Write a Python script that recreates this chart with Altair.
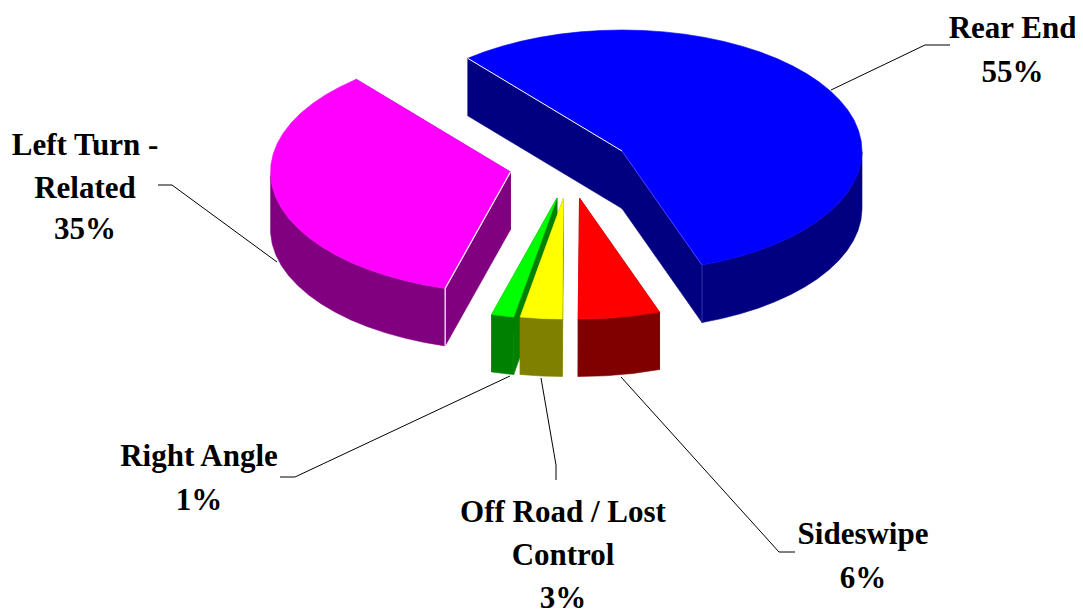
import math
import altair as alt
import pandas as pd

# ---- chart values ----
names = ["Rear End", "Sideswipe", "Off Road / Lost Control", "Right Angle", "Left Turn - Related"]
shares = [55.7, 5.5, 2.8, 1.5, 34.5]
top_colors = ["#0000ff", "#ff0000", "#ffff00", "#00ff00", "#ff00ff"]
side_colors = ["#000080", "#800000", "#808000", "#008000", "#800080"]

label_lines = [
    ["Rear End", "55%"],
    ["Sideswipe", "6%"],
    ["Off Road / Lost", "Control", "3%"],
    ["Right Angle", "1%"],
    ["Left Turn -", "Related", "35%"],
]

# ---- layout of the exploded pie (pixels on the page) ----
W, H = 1067, 601
A, B, DEPTH = 240, 121, 57.5
START = 130.0
apex = [(622, 151), (579.5, 198), (563.5, 198), (557, 198), (510.5, 172)]
draw_order = [4, 0, 3, 2, 1]
label_pos = [(1012.5, [29, 73]), (863, [535, 579]), (563, [513, 556, 598.5]),
             (199, [457, 501]), (85, [146, 189, 230])]
leaders = [
    [(831, 90), (925, 45), (950, 45)],
    [(621, 377), (779, 552), (795, 552)],
    [(541, 378), (556, 465), (556, 480)],
    [(510, 376), (295, 477), (280, 477)],
    [(277, 262), (172, 185), (158, 185)],
]

x_scale = alt.Scale(domain=[8, 8 + W], nice=False, zero=False)
y_scale = alt.Scale(domain=[8 + H, 8], nice=False, zero=False)
X = alt.X("x:Q", scale=x_scale, axis=None)
Y = alt.Y("y:Q", scale=y_scale, axis=None)


def ell(c, t, drop=0.0):
    r = math.radians(t)
    return (c[0] + A * math.cos(r), c[1] - B * math.sin(r) + drop)


def poly(points, fill, stroke=None, sw=0.6):
    df = pd.DataFrame({"x": [p[0] for p in points], "y": [p[1] for p in points], "i": range(len(points))})
    return alt.Chart(df).mark_line(fill=fill, stroke=stroke or fill, strokeWidth=sw, interpolate="linear-closed").encode(
        x=X, y=Y, order="i:Q")


def seg(points, color, sw=1.0):
    df = pd.DataFrame({"x": [p[0] for p in points], "y": [p[1] for p in points], "i": range(len(points))})
    return alt.Chart(df).mark_line(stroke=color, strokeWidth=sw).encode(x=X, y=Y, order="i:Q")


# angular span of each slice, clockwise from START
spans = []
t = START
for s in shares:
    t2 = t - s * 3.6
    spans.append((t, t2))
    t = t2

layers = []
for k in draw_order:
    c, (t0, t1) = apex[k], spans[k]
    n = max(2, int(abs(t1 - t0) / 5))
    arc_t = [t0 + (t1 - t0) * j / n for j in range(n + 1)]
    top = [ell(c, a) for a in arc_t]
    p0, p1 = top[0], top[-1]
    low = (c[0], c[1] + DEPTH)
    # cut faces
    layers.append(poly([c, p0, (p0[0], p0[1] + DEPTH), low], side_colors[k]))
    layers.append(poly([c, p1, (p1[0], p1[1] + DEPTH), low], side_colors[k]))
    # outer wall: only the part of the rim facing the viewer
    front_t = [a for a in arc_t if math.sin(math.radians(a)) <= 0]
    if front_t:
        w_top = [ell(c, a) for a in front_t]
        w_low = [ell(c, a, DEPTH) for a in reversed(front_t)]
        layers.append(poly(w_top + w_low, side_colors[k]))
    # top face
    layers.append(poly([c] + top, top_colors[k]))

# pale highlights on the cut edges
layers.append(seg([ell(apex[0], spans[0][0]), apex[0]], "#ffffff", 1.0))
q = ell(apex[0], spans[0][1])
layers.append(seg([apex[0], q], "#5050ff", 0.8))
layers.append(seg([q, (q[0], q[1] + DEPTH)], "#4040b0", 0.8))
layers.append(seg([apex[4], ell(apex[4], spans[4][0])], "#ffffff", 1.2))
p = ell(apex[4], spans[4][0])
layers.append(seg([p, (p[0], p[1] + DEPTH)], "#ffffff", 1.2))

for pts in leaders:
    layers.append(seg(pts, "#000000", 1.0))

rows = []
for (lx, ys), lines in zip(label_pos, label_lines):
    for yy, txt in zip(ys, lines):
        rows.append({"x": lx, "y": yy, "txt": txt})
layers.append(alt.Chart(pd.DataFrame(rows)).mark_text(
    font="Liberation Serif", fontWeight="bold", fontSize=31, color="#000000", align="center", baseline="middle"
).encode(x=X, y=Y, text="txt:N"))

chart = alt.layer(*layers).properties(
    width=W, height=H, padding=0, autosize=alt.AutoSizeParams(type="none")
).configure_view(stroke=None)
chart.save("out.html", embed_options={"renderer": "svg", "actions": False})
